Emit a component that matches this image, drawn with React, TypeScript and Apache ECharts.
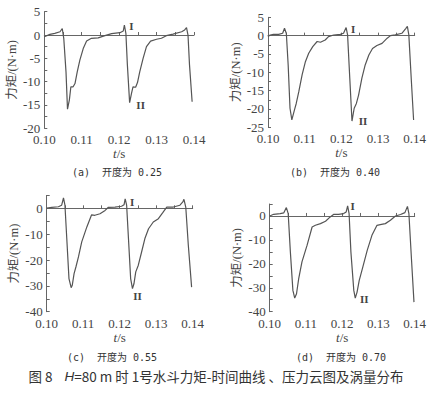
import React, { useEffect, useRef } from "react";
import * as echarts from "echarts";

// Panel (a) opening 0.25
const tA = [0.1, 0.1015, 0.1028, 0.1042, 0.1048, 0.1052, 0.1058, 0.1062, 0.1067, 0.1071, 0.1077, 0.1082, 0.1088, 0.1095, 0.1104, 0.1113, 0.1126, 0.1144, 0.1162, 0.118, 0.1202, 0.1211, 0.1214, 0.1218, 0.1222, 0.1228, 0.1233, 0.1237, 0.1244, 0.1249, 0.1255, 0.1264, 0.1273, 0.1284, 0.13, 0.1313, 0.1326, 0.1344, 0.1367, 0.1375, 0.138, 0.1384, 0.1388, 0.1395];
const vA = [-0.36, 0.14, 0.36, 0.7, 1.4, -0.7, -7.9, -15.9, -13.9, -11.1, -11.1, -10.4, -7.9, -5.4, -2.9, -1.3, -0.7, -0.6, -0.14, 0.3, 0.5, 0.86, 2.1, 0.36, -6.4, -14.5, -12.5, -11.1, -11.2, -10.2, -7.9, -5.0, -2.5, -1.3, -0.9, -0.7, -0.14, 0.2, 0.7, 1.1, 1.6, 0.0, -6.4, -14.3];
// Panel (b) opening 0.40
const tB = [0.1, 0.1006, 0.1015, 0.1029, 0.104, 0.1045, 0.105, 0.1055, 0.106, 0.1065, 0.1072, 0.1077, 0.1084, 0.1093, 0.1102, 0.1111, 0.1122, 0.1134, 0.1143, 0.1156, 0.1165, 0.1179, 0.1197, 0.1206, 0.1213, 0.1217, 0.1223, 0.1229, 0.1235, 0.1241, 0.1247, 0.1256, 0.1265, 0.1275, 0.1285, 0.1297, 0.1311, 0.1325, 0.1334, 0.1347, 0.1365, 0.1376, 0.138, 0.1384, 0.1391, 0.1397];
const vB = [-0.27, 0.18, 0.36, 0.36, 0.64, 2.0, 0.6, -8.0, -19.8, -23.0, -20.3, -18.5, -15.3, -10.7, -7.1, -4.8, -3.0, -1.6, -1.8, -1.2, -0.27, 0.18, 0.36, 0.64, 2.2, 0.2, -11.6, -23.3, -19.8, -18.5, -16.2, -11.6, -8.0, -5.3, -3.5, -2.7, -2.1, -0.7, 0.0, 0.2, 0.64, 2.0, 2.5, 0.2, -12.5, -23.0];
// Panel (c) opening 0.55
const tC = [0.1, 0.1014, 0.1032, 0.1041, 0.1046, 0.105, 0.1055, 0.1061, 0.1067, 0.107, 0.1075, 0.108, 0.1087, 0.1096, 0.111, 0.1123, 0.1132, 0.1146, 0.116, 0.1169, 0.1187, 0.1205, 0.1212, 0.1215, 0.1219, 0.1224, 0.123, 0.1235, 0.1239, 0.1244, 0.1251, 0.126, 0.1269, 0.1279, 0.1292, 0.1306, 0.1318, 0.1329, 0.1347, 0.1365, 0.1373, 0.1376, 0.1381, 0.1388, 0.1397];
const vC = [0.1, 0.4, 0.6, 1.2, 4.0, 1.2, -11.7, -27.2, -30.7, -29.8, -25.3, -22.7, -18.8, -13.0, -7.2, -2.5, -2.7, -2.1, -0.8, 0.4, 0.5, 0.8, 1.4, 3.7, 1.2, -11.7, -27.2, -31.1, -29.2, -24.6, -22.0, -16.9, -11.7, -7.9, -5.3, -4.0, -1.7, 0.5, 0.5, 1.2, 2.5, 3.5, 0.5, -14.3, -30.5];
// Panel (d) opening 0.70
const tD = [0.1, 0.1011, 0.1029, 0.1039, 0.1046, 0.1051, 0.1057, 0.1064, 0.1069, 0.1074, 0.108, 0.1089, 0.1103, 0.1117, 0.1126, 0.114, 0.1154, 0.1167, 0.1177, 0.119, 0.1204, 0.1211, 0.1215, 0.1219, 0.1224, 0.1232, 0.1236, 0.1241, 0.1247, 0.1257, 0.1269, 0.1282, 0.1296, 0.1305, 0.1319, 0.1333, 0.1347, 0.1361, 0.1373, 0.138, 0.1384, 0.1391, 0.1398];
const vD = [0.0, 0.7, 1.0, 1.3, 3.5, 1.0, -15.0, -31.1, -34.3, -32.5, -26.2, -19.2, -12.3, -4.6, -3.9, -3.2, -2.2, -0.4, 0.7, 0.7, 1.0, 1.7, 4.2, 1.0, -15.0, -31.1, -34.3, -31.8, -26.9, -21.3, -14.4, -8.1, -3.9, -3.6, -3.2, -1.8, 0.0, 0.6, 1.4, 4.0, 1.0, -17.8, -36.0];

// Annotated points: [t, value] for "I" and "II"
const markA = [[0.1214, 2.1], [0.1228, -14.5]];
const markB = [[0.1213, 2.2], [0.1229, -23.3]];
const markC = [[0.1215, 3.7], [0.1235, -31.1]];
const markD = [[0.1215, 4.2], [0.1236, -34.3]];

const yMin = [-20, -25, -40, -40];
const yMax = [5, 5, 5, 5];
const yInterval = [5, 5, 10, 10];
const captions = ["(a)  开度为 0.25", "(b)  开度为 0.40", "(c)  开度为 0.55", "(d)  开度为 0.70"];
const figCaption = "图 8";

export default function App() {
  const ref = useRef<HTMLDivElement>(null);
  useEffect(() => {
    if (!ref.current) return;
    const chart = echarts.init(ref.current, null, { renderer: "svg" });
    const grids = [
      { left: 44.3, top: 11.7, width: 149.7, height: 116.6 },
      { left: 268, top: 17.3, width: 146.7, height: 110 },
      { left: 46.7, top: 195.4, width: 146, height: 116.3 },
      { left: 269.7, top: 204, width: 145, height: 107.7 },
    ];
    const ts = [tA, tB, tC, tD];
    const vs = [vA, vB, vC, vD];
    const marks = [markA, markB, markC, markD];
    const markOffsets = [
      [[7, 1], [11, 2]],
      [[7, 1], [11, 0]],
      [[7, 3], [5, 7]],
      [[5, 0], [9, 1]],
    ];
    const axisColor = "#666";
    const labelColor = "#444";
    const serif = "Liberation Serif";
    const xAxes = grids.map((_, i) => ({
      type: "value",
      gridIndex: i,
      min: 0.1,
      max: 0.14,
      interval: 0.01,
      name: "{i|t}/s",
      nameLocation: "middle",
      nameGap: 17,
      nameTextStyle: {
        fontFamily: serif,
        fontSize: 13,
        color: labelColor,
        rich: { i: { fontStyle: "italic", fontFamily: serif, fontSize: 13, color: labelColor } },
      },
      axisLine: { lineStyle: { color: axisColor, width: 1 } },
      axisTick: { inside: true, length: 3, lineStyle: { color: axisColor } },
      minorTick: { show: true, splitNumber: 2, length: 3, lineStyle: { color: axisColor } },
      splitLine: { show: false },
      axisLabel: {
        fontFamily: serif,
        fontSize: 13,
        color: labelColor,
        margin: 5,
        formatter: (v: number) => v.toFixed(2),
      },
    }));
    const yAxes = grids.map((_, i) => ({
      type: "value",
      gridIndex: i,
      min: yMin[i],
      max: yMax[i],
      interval: yInterval[i],
      name: "力矩/(N·m)",
      nameLocation: "middle",
      nameGap: 26,
      nameTextStyle: { fontFamily: "Liberation Serif, Noto Sans CJK SC", fontSize: 12.5, color: labelColor },
      axisLine: { show: true, lineStyle: { color: axisColor, width: 1 } },
      axisTick: { inside: true, length: 3, lineStyle: { color: axisColor } },
      minorTick: { show: true, splitNumber: 2, length: 3, lineStyle: { color: axisColor } },
      splitLine: { show: false },
      axisLabel: {
        fontFamily: serif,
        fontSize: 13,
        color: labelColor,
        margin: 4,
        showMaxLabel: i < 2,
      },
    }));
    const series = grids.map((_, i) => ({
      type: "line",
      xAxisIndex: i,
      yAxisIndex: i,
      data: ts[i].map((t, k) => [t, vs[i][k]]),
      showSymbol: false,
      lineStyle: { color: "#555", width: 1.2 },
      markPoint: {
        symbol: "circle",
        symbolSize: 1,
        itemStyle: { color: "rgba(0,0,0,0)" },
        data: marks[i].map((p, k) => ({
          coord: p,
          label: {
            show: true,
            formatter: k === 0 ? "I" : "II",
            position: "inside",
            offset: markOffsets[i][k],
            fontFamily: serif,
            fontWeight: "bold",
            fontSize: 11,
            color: "#444",
          },
        })),
      },
    }));
    const capPos = [
      [117, 172],
      [335, 172],
      [112, 357],
      [341, 357],
    ];
    const graphic: any[] = captions.map((c, i) => ({
      type: "text",
      x: capPos[i][0],
      y: capPos[i][1],
      style: {
        text: c,
        fontFamily: "DejaVu Sans Mono, Noto Sans CJK SC",
        fontSize: 10,
        fill: "#333",
        align: "center",
        verticalAlign: "middle",
      },
    }));
    graphic.push({
      type: "text",
      x: 216,
      y: 376,
      style: {
        text: "{a|" + figCaption + "    }{h|H}{a|=80 m 时 1号水斗力矩-时间曲线 、压力云图及涡量分布}",
        align: "center",
        verticalAlign: "middle",
        rich: {
          a: { fontFamily: "Noto Sans CJK SC", fontSize: 13.5, fill: "#333" },
          h: { fontFamily: "Liberation Sans", fontStyle: "italic", fontSize: 13.5, fill: "#333" },
        },
      },
    });
    chart.setOption({
      animation: false,
      backgroundColor: "#fff",
      grid: grids,
      xAxis: xAxes,
      yAxis: yAxes,
      series,
      graphic,
    });
    return () => chart.dispose();
  }, []);
  return (
    <div
      ref={ref}
      style={{ position: "fixed", left: 0, top: 0, width: 438, height: 393 }}
    />
  );
}
